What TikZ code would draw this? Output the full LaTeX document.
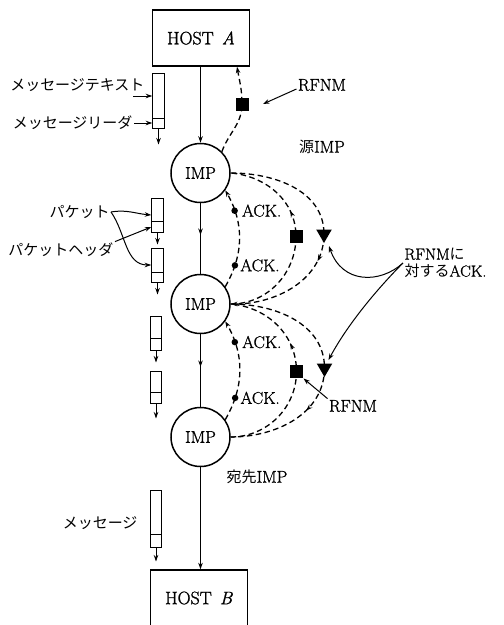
\documentclass[tikz,border=0pt]{standalone}
\usepackage{fontspec}
\setmainfont{Latin Modern Roman}[FakeBold=1.2]
\newfontfamily\jp{Noto Sans CJK JP}
\newcommand\jtext[1]{{\jp\fontsize{15}{17}\selectfont #1}}
\usetikzlibrary{arrows.meta,shapes.geometric,decorations.markings,calc}
\begin{document}
\begin{tikzpicture}[x=1pt,y=-1pt,
  arr/.style={-{Stealth[length=6.5pt,width=4.5pt]}},
  marr/.style={postaction={decorate},decoration={markings,mark=at position #1 with {\arrow{Stealth[length=6.5pt,width=4.5pt]}}}},
  hostbox/.style={draw,line width=1.4pt,minimum width=97pt,minimum height=56pt,inner sep=0pt,font=\fontsize{18}{20}\selectfont},
  imp/.style={draw,circle,line width=1.5pt,minimum size=59pt,inner sep=0pt,font=\fontsize{17}{20}\selectfont},
  msg/.style 2 args={draw,line width=1pt,minimum width=11.5pt,minimum height=#1,inner sep=0pt,
    path picture={\draw[line width=1pt] ([yshift=#2]path picture bounding box.south west) -- ([yshift=#2]path picture bounding box.south east);}},
  dsh/.style={line width=1.3pt,dash pattern=on 5.5pt off 3.5pt},
  sq/.style={fill,minimum size=13pt,inner sep=0pt},
  tri/.style={fill,regular polygon,regular polygon sides=3,shape border rotate=180,minimum size=18pt,inner sep=0pt},
  ackdot/.style={circle,fill,minimum size=6.5pt,inner sep=0pt},
  lbl/.style={inner sep=1pt,font=\fontsize{17}{16}\selectfont},
  jlbl/.style={inner sep=1pt,font=\jp\fontsize{15}{17}\selectfont},
  line width=1pt]
\useasboundingbox (0,0) rectangle (504,625);

% hosts and IMPs
\node[hostbox] (hostA) at (201,38) {HOST\hspace{0.45em}\textit{A}};
\node[hostbox] (hostB) at (199,598) {HOST\hspace{0.45em}\textit{B}};
\node[imp] (imp1) at (200.5,173) {IMP};
\node[imp] (imp2) at (200.5,304) {IMP};
\node[imp] (imp3) at (200.5,437) {IMP};

\draw[arr] (hostA.south -| imp1.north) -- (imp1.north);
\draw[marr=0.45] (imp1.south) -- (imp2.north);
\draw[marr=0.45] (imp2.south) -- (imp3.north);
\draw[arr] (imp3.south) -- (imp3.south |- hostB.north);

% markers
\node[sq] (s0) at (242,104) {};
\node[sq] (s1) at (296,236.5) {};
\node[sq] (s2) at (296.5,371.5) {};
\node[tri] (t1) at (324,234) {};
\node[tri] (t2) at (324.5,368) {};
\coordinate (hAr) at ([xshift=36pt]hostA.south);

% RFNM to host A
\draw[dsh,arr] (imp1.45) to[out=70,in=-90] (s0.center) to[out=90,in=-80] (hAr);

% IMP1 <-> IMP2
\draw[dsh,marr=0.64] (imp2.east) to[out=0,in=-90] (s1.center) to[out=90,in=-5] (imp1.east);
\draw[dsh,marr=0.6,arr] (imp1.east) to[out=0,in=90] (t1.center) to[out=-90,in=0] (imp2.east);
\draw[dsh,arr] (imp2.35) to[out=60,in=-60] node[ackdot,pos=0.22] (a2) {} node[ackdot,pos=0.79] (a1) {} (imp1.-35);
\node[lbl,anchor=west] (k1) at ([xshift=2pt]a1.east) {ACK.};
\node[lbl,anchor=west] (k2) at (a2.east) {ACK.};

% IMP2 <-> IMP3
\draw[dsh,marr=0.64] (imp3.east) to[out=0,in=-90] (s2.center) to[out=90,in=-5] (imp2.east);
\draw[dsh,marr=0.68] (imp2.east) to[out=0,in=90] (t2.center) to[out=-90,in=0] (imp3.east);
\draw[dsh,arr] (imp3.35) to[out=60,in=-60] node[ackdot,pos=0.22] (a4) {} node[ackdot,pos=0.79] (a3) {} (imp2.-35);
\node[lbl,anchor=west] (k3) at ([xshift=2pt]a3.east) {ACK.};
\node[lbl,anchor=west] (k4) at (a4.east) {ACK.};

% right labels
\node[lbl] (rf1) at (322,85) {RFNM};
\draw[arr] ([yshift=-4pt]rf1.west) -- ([xshift=14pt]s0.east);
\node[lbl] (src) at (322,147) {\jtext{源}IMP};
\node[lbl] (rf2) at (353,406) {RFNM};
\draw[arr] (rf2.north west) -- (s2.south east);
\node[lbl] (dst) at (257,477) {\jtext{宛先}IMP};
\node[lbl,anchor=west,align=left,font=\fontsize{16}{17}\selectfont] (ra) at (403,263) {RFNM\jtext{に}\\\jtext{対する}ACK.};
\draw[arr] (ra.west) .. controls (380,284) and (342,284) .. ([shift={(5pt,-12pt)}]t1.center);
\draw[arr] (ra.west) .. controls (383,283) and (350,320) .. ([shift={(4pt,8pt)}]t2.center);

% message / packets
\node[msg={55pt}{10pt}] (m0) at (158.5,100.5) {};
\node[msg={34pt}{11pt}] (p1) at (157.5,215) {};
\node[msg={34pt}{10pt}] (p2) at (157.5,265) {};
\node[msg={34pt}{12pt}] (p3) at (156,333) {};
\node[msg={32pt}{11pt}] (p4) at (156,387) {};
\node[msg={57pt}{13pt}] (m5) at (156,518.5) {};
\draw[arr] (m0.south) -- ++(0,16);
\draw[arr] (p1.south) -- ++(0,12);
\draw[arr] (p2.south) -- ++(0,12);
\draw[arr] (p3.south) -- ++(0,12);
\draw[arr] (p4.south) -- ++(0,15);
\draw[arr] (m5.south) -- ++(0,14);

% left labels
\node[jlbl,anchor=east] (lt) at (146,85) {メッセージテキスト};
\draw[arr] ([shift={(-13pt,-11pt)}]lt.east) -- ([yshift=4.5pt]m0.west);
\node[jlbl,anchor=east] (ll) at (134,123) {メッセージリーダ};
\draw[arr] (ll.east) -- (m0.west |- ll.east);
\node[jlbl,anchor=east] (lp) at (111,212) {パケット};
\draw[arr] (lp.east) to[out=10,in=175] (p1.west);
\draw[arr] (lp.east) to[out=-55,in=180] (p2.west);
\node[jlbl,anchor=east] (lph) at (115,250) {パケットヘッダ};
\draw[arr] (lph.north east) -- ([yshift=5.5pt]p1.south west);
\node[jlbl,anchor=east] (lm) at (139,523) {メッセージ};
\end{tikzpicture}
\end{document}
